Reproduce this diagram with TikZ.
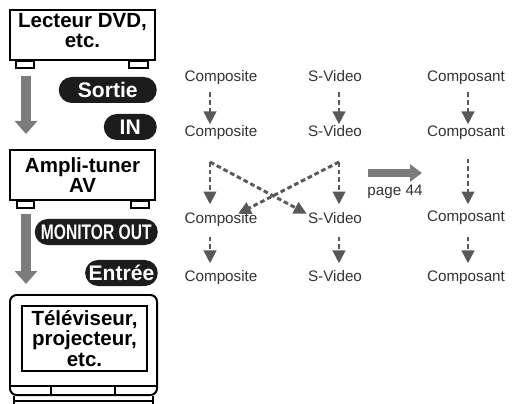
\documentclass[tikz,border=0pt]{standalone}
\usepackage{fontspec}
\setmainfont{Liberation Sans}
\usepackage{graphicx}
\usepackage{xcolor}
\usetikzlibrary{arrows.meta}
\usetikzlibrary{positioning}

\definecolor{flowgray}{HTML}{595959}
\definecolor{biggray}{HTML}{7C7C7C}
\definecolor{pillblack}{HTML}{1C1C1C}

\begin{document}
\begin{tikzpicture}[x=0.03cm, y=-0.03cm, >={Triangle[width=10.5pt, length=11pt]}]
\tikzstyle{unit} = [draw=black, line width=1.7pt, inner sep=0pt]
\tikzstyle{unitlabel} = [align=center, inner sep=0pt, font=\fontsize{17.5pt}{16.5pt}\selectfont\bfseries]
\tikzstyle{pill} = [fill=pillblack, text=white, rounded corners=0.39cm, minimum height=0.78cm, inner xsep=3pt, anchor=east, font=\fontsize{18pt}{18pt}\selectfont\bfseries]
\tikzstyle{signal} = [text=black!80, inner sep=0pt, text height=0.72em, text depth=0.2em, font=\fontsize{13pt}{15pt}\selectfont]
\tikzstyle{flow} = [->, draw=flowgray, line width=2.5pt, dash pattern=on 4pt off 2.5pt]
\tikzstyle{bigarrow} = [draw=biggray, line width=0.3cm, -{Triangle[width=0.66cm, length=0.39cm]}]
\tikzstyle{pagearrow} = [draw=biggray, line width=0.24cm, -{Triangle[width=0.51cm, length=0.36cm]}]
\tikzstyle{foot} = [draw=black, line width=1.4pt]

\useasboundingbox (0,0) rectangle (512,404);

% devices
\node[unit, minimum width=4.35cm, minimum height=1.5cm] (DVD) at (82.5,35) {};
\node[unitlabel] (DVDname) at ([yshift=0.135cm]DVD.center) {Lecteur DVD,\\etc.};
\node[unit, minimum width=4.35cm, minimum height=1.5cm] (AMP) at (82.5,175) {};
\node[unitlabel] (AMPname) at (AMP.center) {Ampli-tuner\\AV};
\node[unit, rounded corners=0.2cm, minimum width=4.41cm, minimum height=3cm] (TV) at (83.5,345) {};
\node[unit, line width=1.1pt, minimum width=3.75cm, minimum height=1.95cm] (SCR) at (84.5,338.5) {};
\node[unitlabel, font=\fontsize{17.5pt}{17.5pt}\selectfont\bfseries] (TVname) at (SCR.center) {Téléviseur,\\projecteur,\\etc.};

\draw[foot] ([xshift=0.21cm]DVD.south west) rectangle ++(18,7);
\draw[foot] ([xshift=-0.24cm]DVD.south east) rectangle ++(-19,7);
\draw[foot] ([xshift=0.24cm]AMP.south west) rectangle ++(17,7);
\draw[foot] ([xshift=-0.21cm]AMP.south east) rectangle ++(-18,7);
\draw[foot] ([yshift=0.3cm]TV.south west) -- ([yshift=0.3cm]TV.south east);
\draw[foot] ([xshift=1.26cm,yshift=0.3cm]TV.south west) -- ([xshift=1.26cm]TV.south west);
\draw[foot] ([xshift=3.18cm,yshift=0.3cm]TV.south west) -- ([xshift=3.18cm]TV.south west);
\draw[foot] ([xshift=0.15cm]TV.south west) -- ++(0,12);
\draw[foot] ([xshift=-0.15cm]TV.south east) -- ++(0,12);
\draw[foot] ([xshift=0.15cm,yshift=-0.15cm]TV.south west) -- ([xshift=-0.15cm,yshift=-0.15cm]TV.south east);

\draw[bigarrow] ([xshift=0.51cm,yshift=-0.45cm]DVD.south west) -- ([xshift=0.51cm,yshift=0.45cm]AMP.north west);
\draw[bigarrow] ([xshift=0.51cm,yshift=-0.39cm]AMP.south west) -- ([xshift=0.51cm,yshift=0.3cm]TV.north west);

% jacks
\node[pill, minimum width=2.94cm] (OUT) at (157,90) {Sortie};
\node[pill, minimum width=1.59cm] (IN) at (157,127) {IN};
\node[pill, minimum width=3.69cm] (MON) at (158,232) {\scalebox{0.74}[1]{MONITOR OUT}};
\node[pill, minimum width=2.1cm] (ENT) at (158,273) {Entrée};

% signals
\node[signal] (comp1) at (221,78) {Composite};
\node[signal] (svid1) at (335,78) {S-Video};
\node[signal] (cpst1) at (466,78) {Composant};
\node[signal] (comp2) at (221,133) {Composite};
\node[signal] (svid2) at (335,133) {S-Video};
\node[signal] (cpst2) at (466,133) {Composant};
\node[signal] (comp3) at (221,220) {Composite};
\node[signal] (svid3) at (335,220) {S-Video};
\node[signal] (cpst3) at (466,218) {Composant};
\node[signal] (comp4) at (221,278) {Composite};
\node[signal] (svid4) at (335,278) {S-Video};
\node[signal] (cpst4) at (466,278) {Composant};
\node[signal] (pg44) at (395,192) {page 44};

\coordinate (colA) at (210,0);
\coordinate (colB) at (339,0);
\coordinate (colC) at (468,0);
\coordinate (crossA) at (210,162);
\coordinate (crossB) at (339,162);
\coordinate (pgA) at (368,173);
\coordinate (pgB) at (422,173);

\path (comp1.south -| colA) edge[flow, shorten <=7.5pt, shorten >=2.6pt] (comp2.north -| colA)
      (svid1.south -| colB) edge[flow, shorten <=7.5pt, shorten >=2.6pt] (svid2.north -| colB)
      (cpst1.south -| colC) edge[flow, shorten <=7.5pt, shorten >=2.6pt] (cpst2.north -| colC)
      (crossA) edge[flow, shorten >=8.5pt] (comp3.north -| colA)
               edge[flow, shorten >=1pt] (svid3.north west)
      (crossB) edge[flow, shorten >=8.5pt] (svid3.north -| colB)
               edge[flow, shorten >=1pt] ([xshift=0.48cm]comp3.north)
      (cpst2.south -| colC) edge[flow, shorten <=17pt, shorten >=6.8pt] (cpst3.north -| colC)
      (comp3.south -| colA) edge[flow, shorten <=9.4pt, shorten >=7.7pt] (comp4.north -| colA)
      (svid3.south -| colB) edge[flow, shorten <=9.4pt, shorten >=7.7pt] (svid4.north -| colB)
      (cpst3.south -| colC) edge[flow, shorten <=11pt, shorten >=7.7pt] (cpst4.north -| colC)
      ;

\draw[pagearrow] (pgA) -- (pgB);

\end{tikzpicture}
\end{document}
